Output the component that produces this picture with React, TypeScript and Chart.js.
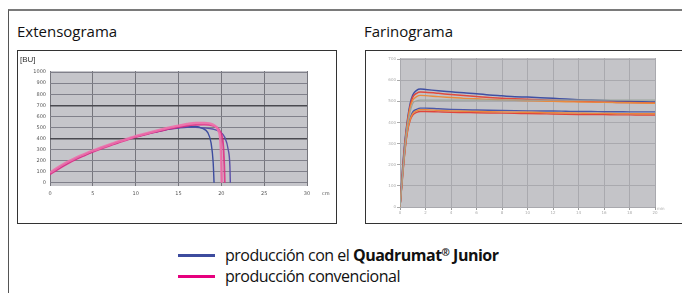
import React, { useEffect, useRef } from "react";
import { Chart, registerables } from "chart.js";

Chart.register(...registerables);

// ---------- Extensograma data (x: cm, y: BU) ----------
const extYTicks = [0, 100, 200, 300, 400, 500, 600, 700, 800, 900, 1000];
const extXTicks = [0, 5, 10, 15, 20, 25, 30];

const extPinkAX = [0, 1, 2, 3, 4, 5, 6, 7, 8, 9, 10, 11, 12, 13, 14, 15, 16, 17, 18, 19, 19.6, 19.9, 20.0, 20.05];
const extPinkAY = [90, 140, 185, 225, 258, 290, 318, 345, 372, 395, 420, 440, 460, 480, 500, 515, 530, 540, 540, 525, 480, 380, 200, 0];

const extPinkBX = [0, 1, 2, 3, 4, 5, 6, 7, 8, 9, 10, 11, 12, 13, 14, 15, 16, 17, 18, 19, 19.8, 20.2, 20.35, 20.4];
const extPinkBY = [75, 125, 170, 210, 245, 278, 308, 336, 362, 388, 412, 432, 452, 470, 488, 502, 515, 522, 525, 515, 470, 360, 150, 0];

const extBlueAX = [0, 1, 2, 3, 4, 5, 6, 7, 8, 9, 10, 11, 12, 13, 14, 15, 16, 17, 17.8, 18.4, 18.8, 19.05, 19.15];
const extBlueAY = [85, 135, 178, 218, 252, 285, 314, 342, 368, 392, 416, 436, 455, 472, 487, 498, 505, 508, 490, 455, 360, 180, 0];

const extBlueBX = [0, 1, 2, 3, 4, 5, 6, 7, 8, 9, 10, 11, 12, 13, 14, 15, 16, 17, 18, 19, 19.8, 20.4, 20.8, 21.0, 21.05];
const extBlueBY = [80, 130, 175, 215, 250, 282, 312, 340, 366, 390, 414, 435, 454, 470, 484, 494, 500, 500, 495, 485, 462, 410, 300, 150, 0];

// ---------- Farinograma data (x: min, y: FU) ----------
const farX = [0, 0.2, 0.4, 0.6, 0.8, 1.0, 1.3, 1.6, 2, 3, 4, 5, 6, 7, 8, 9, 10, 11, 12, 13, 14, 15, 16, 17, 18, 19, 20];
const farBlueTop = [0, 180, 320, 420, 490, 530, 552, 558, 556, 550, 545, 540, 536, 530, 526, 522, 520, 517, 514, 511, 508, 506, 504, 502, 500, 498, 497];
const farRedTop = [0, 170, 310, 410, 480, 520, 538, 544, 543, 538, 532, 527, 523, 518, 515, 512, 510, 507, 505, 502, 500, 498, 496, 495, 494, 493, 492];
const farOrangeTop = [0, 160, 300, 400, 470, 505, 522, 528, 527, 522, 518, 514, 512, 509, 507, 505, 503, 501, 500, 498, 497, 496, 495, 494, 493, 492, 491];
const farGrayMid = [0, 150, 290, 390, 450, 490, 503, 506, 506, 506, 506, 506, 506, 506, 506, 506, 506, 506, 506, 506, 506, 506, 506, 506, 506, 506, 506];
const farBlueLow = [0, 150, 280, 370, 420, 450, 462, 468, 468, 465, 462, 460, 459, 458, 457, 456, 455, 454, 454, 453, 452, 452, 451, 451, 450, 450, 450];
const farOrangeLow = [0, 145, 275, 365, 415, 442, 455, 460, 460, 457, 455, 453, 452, 451, 450, 449, 448, 447, 446, 445, 444, 443, 443, 442, 442, 441, 441];
const farRedLow = [0, 140, 270, 360, 410, 435, 448, 452, 452, 450, 448, 447, 446, 445, 444, 443, 442, 441, 440, 439, 438, 437, 437, 436, 436, 435, 435];
const farYTicks = [0, 100, 200, 300, 400, 500, 600, 700];
const farXTicks = [0, 2, 4, 6, 8, 10, 12, 14, 16, 18, 20];

const BLUE = "#3d4c9e";
const PINK = "#e6007e";

const zip = (xs: number[], ys: number[]) => xs.map((x, i) => ({ x, y: ys[i] }));

const bgPlugin = {
  id: "bgFill",
  beforeDraw(chart: any, _args: any, opts: any) {
    const a = chart.chartArea;
    if (!a) return;
    const ctx = chart.ctx;
    ctx.save();
    ctx.fillStyle = opts.color || "#c6c6ca";
    ctx.fillRect(a.left, a.top, a.right - a.left, a.bottom - a.top);
    ctx.restore();
  },
};

function ds(label: string, data: any[], color: string, width = 1.6) {
  return {
    label,
    data,
    borderColor: color,
    borderWidth: width,
    pointRadius: 0,
    fill: false,
    cubicInterpolationMode: "monotone" as const,
  };
}

const plain = (v: any) => String(v);

function ExtChart() {
  const ref = useRef<HTMLCanvasElement>(null);
  useEffect(() => {
    const chart = new Chart(ref.current!, {
      type: "line",
      data: {
        datasets: [
          ds("conv A", zip(extPinkAX, extPinkAY), "rgba(240,110,170,0.9)", 2.6),
          ds("conv B", zip(extPinkBX, extPinkBY), "rgba(225,40,130,0.85)", 1.8),
          ds("quad A", zip(extBlueAX, extBlueAY), BLUE, 1.4),
          ds("quad B", zip(extBlueBX, extBlueBY), "#5a4fa8", 1.4),
        ],
      },
      options: {
        responsive: false,
        animation: false,
        layout: { padding: { top: 20, right: 28, left: 0, bottom: 0 } },
        plugins: {
          legend: { display: false },
          tooltip: { enabled: false },
          bgFill: { color: "#c5c5ca" },
        } as any,
        scales: {
          x: {
            type: "linear",
            min: 0,
            max: 30,
            afterBuildTicks: (s: any) => { s.ticks = extXTicks.map((v) => ({ value: v })); },
            afterFit: (s: any) => { s.height = 36; },
            grid: { color: "#75757c", lineWidth: 1, drawTicks: false },
            border: { display: false },
            ticks: { font: { size: 5, family: "DejaVu Sans" }, color: "#555", padding: 5, maxRotation: 0, callback: plain },
          },
          y: {
            type: "linear",
            min: -30,
            max: 1010,
            afterBuildTicks: (s: any) => { s.ticks = extYTicks.map((v) => ({ value: v })); },
            afterFit: (s: any) => { s.width = 32; },
            grid: {
              color: (c: any) => (c.tick && (c.tick.value === 400 || c.tick.value === 700) ? "#4a4a50" : "#80808a"),
              lineWidth: (c: any) => (c.tick && (c.tick.value === 400 || c.tick.value === 700) ? 1.5 : 1),
              drawTicks: false,
            },
            border: { display: false },
            ticks: { font: { size: 5, family: "DejaVu Sans" }, color: "#555", padding: 4, callback: plain },
          },
        },
      },
      plugins: [bgPlugin],
    } as any);
    return () => chart.destroy();
  }, []);
  return <canvas ref={ref} width={317} height={171} style={{ display: "block" }} />;
}

function FarChart() {
  const ref = useRef<HTMLCanvasElement>(null);
  useEffect(() => {
    const chart = new Chart(ref.current!, {
      type: "line",
      data: {
        datasets: [
          ds("gray", zip(farX, farGrayMid), "#9aa39a", 1.2),
          ds("orange low", zip(farX, farOrangeLow), "#e8873e", 1.4),
          ds("red low", zip(farX, farRedLow), "#e0443c", 1.4),
          ds("blue low", zip(farX, farBlueLow), "#4a58a8", 1.4),
          ds("orange top", zip(farX, farOrangeTop), "#ea8a3c", 1.4),
          ds("red top", zip(farX, farRedTop), "#e04a3e", 1.5),
          ds("blue top", zip(farX, farBlueTop), "#3f4fa3", 1.5),
        ],
      },
      options: {
        responsive: false,
        animation: false,
        layout: { padding: { top: 7, right: 27, left: 0, bottom: 0 } },
        plugins: {
          legend: { display: false },
          tooltip: { enabled: false },
          bgFill: { color: "#c4c4c8" },
        } as any,
        scales: {
          x: {
            type: "linear",
            min: 0,
            max: 20,
            afterBuildTicks: (s: any) => { s.ticks = farXTicks.map((v) => ({ value: v })); },
            afterFit: (s: any) => { s.height = 15; },
            grid: { color: "#a9a9ae", lineWidth: 1, drawTicks: true, tickLength: 3, tickColor: "#999" },
            border: { display: false },
            ticks: { font: { size: 4, family: "DejaVu Sans" }, color: "#aaa", padding: 1, maxRotation: 0, callback: plain },
          },
          y: {
            type: "linear",
            min: 0,
            max: 705,
            afterBuildTicks: (s: any) => { s.ticks = farYTicks.map((v) => ({ value: v })); },
            afterFit: (s: any) => { s.width = 34; },
            grid: { color: "#a9a9ae", lineWidth: 1, drawTicks: true, tickLength: 3, tickColor: "#aaa" },
            border: { display: false },
            ticks: { font: { size: 4, family: "DejaVu Sans" }, color: "#aaa", padding: 1, callback: plain },
          },
        },
      },
      plugins: [bgPlugin],
    } as any);
    return () => chart.destroy();
  }, []);
  return <canvas ref={ref} width={316} height={171} style={{ display: "block" }} />;
}

const font = "'Open Sans', 'Noto Sans', sans-serif";

export default function App() {
  const abs = (l: number, t: number, extra: React.CSSProperties = {}): React.CSSProperties => ({
    position: "absolute",
    left: l,
    top: t,
    ...extra,
  });
  const legendText: React.CSSProperties = { fontSize: 16, lineHeight: "20px", color: "#111", whiteSpace: "nowrap", letterSpacing: -0.5 };
  return (
    <div style={{ position: "fixed", left: 0, top: 0, width: 682, height: 293, overflow: "hidden", background: "#fff", fontFamily: font }}>
      {/* outer frame */}
      <div style={abs(8, 9, { width: 700, height: 300, borderLeft: "1px solid #555", borderTop: "2px solid #7a7a7a" })} />
      {/* titles */}
      <div style={abs(17, 21, { fontSize: 15, lineHeight: "20px", color: "#111", whiteSpace: "nowrap" })}>Extensograma</div>
      <div style={abs(364, 21, { fontSize: 15, lineHeight: "20px", color: "#111", whiteSpace: "nowrap" })}>Farinograma</div>
      {/* panels */}
      <div style={abs(17, 50, { width: 318, height: 172, border: "1px solid #333", boxSizing: "content-box" })} />
      <div style={abs(365, 50, { width: 340, height: 172, border: "1px solid #333" })} />
      <div style={abs(18, 51)}><ExtChart /></div>
      <div style={abs(366, 51)}><FarChart /></div>
      <div style={abs(20, 55, { fontSize: 8, lineHeight: "10px", color: "#333", fontFamily: "'Liberation Sans', sans-serif" })}>[BU]</div>
      <div style={abs(322, 190, { fontSize: 5, lineHeight: "6px", color: "#555", fontFamily: "'DejaVu Sans', sans-serif" })}>cm</div>
      <div style={abs(657, 206, { fontSize: 4, lineHeight: "5px", color: "#aaa", fontFamily: "'DejaVu Sans', sans-serif" })}>min</div>
      {/* legend */}
      <div style={abs(178, 253.5, { width: 37, height: 3, background: BLUE })} />
      <div style={abs(178, 275, { width: 37, height: 3, background: PINK })} />
      <div style={abs(225, 245, legendText)}>
        producción con el <b>Quadrumat<sup style={{ fontSize: 10, verticalAlign: "top", lineHeight: "14px" }}>®</sup> Junior</b>
      </div>
      <div style={abs(225, 266, legendText)}>producción convencional</div>
    </div>
  );
}
